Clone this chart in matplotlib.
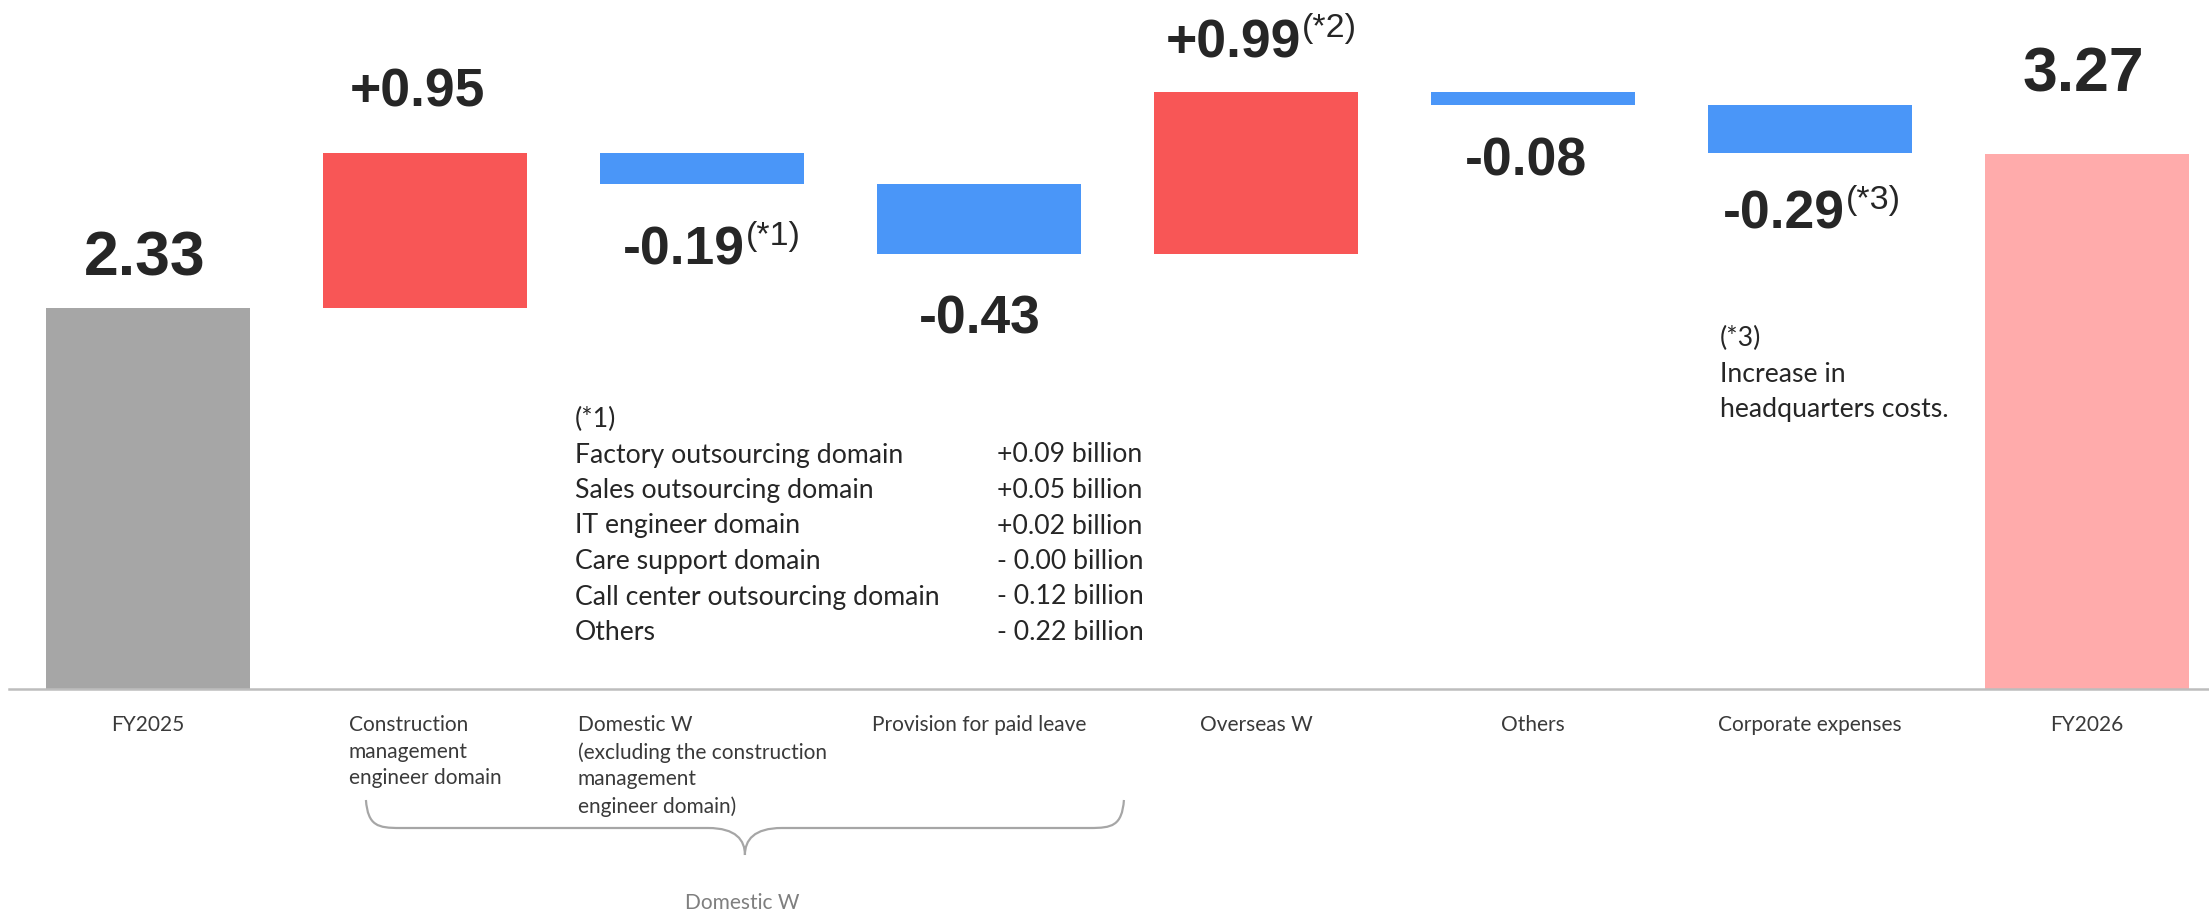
import matplotlib
matplotlib.use("Agg")
import matplotlib.pyplot as plt
import numpy as np
from matplotlib.path import Path
from matplotlib.patches import PathPatch
from matplotlib.transforms import blended_transform_factory

# ---- data -------------------------------------------------------------
categories = [
    "FY2025",
    "Construction\nmanagement\nengineer domain",
    "Domestic W\n(excluding the construction\nmanagement\nengineer domain)",
    "Provision for paid leave",
    "Overseas W",
    "Others",
    "Corporate expenses",
    "FY2026",
]
fy2025 = 2.33
fy2026 = 3.27
changes = [0.95, -0.19, -0.43, 0.99, -0.08, -0.29]
change_notes = ["", "(*1)", "", "(*2)", "", "(*3)"]

note1_items = [
    "Factory outsourcing domain",
    "Sales outsourcing domain",
    "IT engineer domain",
    "Care support domain",
    "Call center outsourcing domain",
    "Others",
]
note1_values = [
    "+0.09 billion",
    "+0.05 billion",
    "+0.02 billion",
    "- 0.00 billion",
    "- 0.12 billion",
    "- 0.22 billion",
]
note3_lines = ["Increase in", "headquarters costs."]
group_label = "Domestic W"

# ---- styling ----------------------------------------------------------
GRAY = "#A6A6A6"
RED = "#F85656"
BLUE = "#4A96F8"
PINK = "#FFABAB"
DARK = "#262626"
TICK = "#3A3A3A"
BRACE = "#A6A6A6"

W, H, DPI = 2209, 910, 100
BASE = 689          # pixel row of the zero line
PX_PER_UNIT = 163.5
SLOT = 277          # pixels between bar centres
X0 = 148            # pixel column of the first bar centre
BAR_W = 204 / SLOT

fig = plt.figure(figsize=(W / DPI, H / DPI), dpi=DPI)
ax = fig.add_axes([0, (H - BASE) / H, 1, BASE / H])
ax.set_xlim(-X0 / SLOT, (W - X0) / SLOT)
ax.set_ylim(0, BASE / PX_PER_UNIT)
ax.axis("off")

def pt(px):
    return px * 72.0 / DPI

def ax_y(py):
    """pixel row -> axes fraction (can be negative below the zero line)"""
    return (BASE - py) / BASE

def fig_xy(px, py):
    return px / W, 1 - py / H

xy_blend = blended_transform_factory(ax.transData, ax.transAxes)

# ---- bars ---------------------------------------------------------------
n = len(categories)
x = np.arange(n)
anchors = []
ax.bar(x[0], fy2025, width=BAR_W, color=GRAY, zorder=2)
anchors.append(fy2025)
level = fy2025
for i, d in enumerate(changes, start=1):
    bottom = level if d >= 0 else level + d
    ax.bar(x[i], abs(d), bottom=bottom, width=BAR_W,
           color=RED if d >= 0 else BLUE, zorder=2)
    anchors.append(level + d)
    level += d
ax.bar(x[-1], fy2026, width=BAR_W, color=PINK, zorder=2)
anchors.append(fy2026)

# zero line
ax.axhline(0, xmin=9 / W, xmax=1, color="#BDBDBD", lw=pt(2.5), clip_on=False, zorder=3)

# ---- value labels -----------------------------------------------------
labels = [f"{fy2025:.2f}"] + [f"{d:+.2f}" for d in changes] + [f"{fy2026:.2f}"]
notes = [""] + change_notes + [""]
sizes = [45] + [38.5] * len(changes) + [45]
# (dx, dy) in pixels from the bar end to the label baseline
offsets = [(-3, 33), (-8, 46), (-18, -81), (1, -79),
           (-23, 35), (-7, -70), (-26, -76), (-4, 63)]
for i in range(n):
    dx, dy = offsets[i]
    t = ax.annotate(labels[i], xy=(x[i], anchors[i]), xytext=(pt(dx), pt(dy)),
                    textcoords="offset points", ha="center", va="baseline",
                    fontsize=sizes[i], fontweight="bold",
                    family="Liberation Sans", color=DARK, zorder=4,
                    annotation_clip=False)
    if notes[i]:
        ax.annotate(notes[i], xy=(1, 1), xycoords=t, xytext=(pt(1), pt(5)),
                    textcoords="offset points", ha="left", va="top",
                    fontsize=24.5, family="Liberation Sans", color=DARK,
                    annotation_clip=False)

# ---- category labels --------------------------------------------------
for i, lab in enumerate(categories):
    ax.text(x[i], ax_y(715), lab, transform=xy_blend, ha="center", va="top",
            multialignment="left", fontsize=15, family="Lato", color=TICK,
            linespacing=1.42, clip_on=False)

# ---- brace grouping the domestic items ----------------------------------
inset = 0.155
xl = x[1] - BAR_W / 2 + inset
xr = x[3] + BAR_W / 2 + inset
xm = (xl + xr) / 2
u = 1.0 / SLOT  # one pixel in data units
y_top, y_mid, y_tip = ax_y(800), ax_y(828), ax_y(855)
verts = [
    (xl, y_top), (xl + 2 * u, ax_y(826)), (xl + 12 * u, y_mid), (xl + 34 * u, y_mid),
    (xm - 37 * u, y_mid),
    (xm - 9 * u, y_mid), (xm, ax_y(840)), (xm, y_tip),
    (xm, ax_y(840)), (xm + 9 * u, y_mid), (xm + 37 * u, y_mid),
    (xr - 34 * u, y_mid),
    (xr - 12 * u, y_mid), (xr - 2 * u, ax_y(826)), (xr, y_top),
]
codes = [Path.MOVETO, Path.CURVE4, Path.CURVE4, Path.CURVE4,
         Path.LINETO,
         Path.CURVE4, Path.CURVE4, Path.CURVE4,
         Path.CURVE4, Path.CURVE4, Path.CURVE4,
         Path.LINETO,
         Path.CURVE4, Path.CURVE4, Path.CURVE4]
ax.add_patch(PathPatch(Path(verts, codes), transform=xy_blend, fill=False,
                       edgecolor=BRACE, lw=pt(2.2), clip_on=False))
ax.text(xm - 3 * u, ax_y(893), group_label, transform=xy_blend, ha="center",
        va="top", fontsize=15, family="Lato", color="#7F7F7F", clip_on=False)

# ---- footnotes ------------------------------------------------------------
ROW = 35.5
NOTE_FS = 19.2
fig.text(*fig_xy(575, 427), "(*1)", ha="left", va="baseline",
         fontsize=NOTE_FS, family="Lato", color=DARK)
for k, (item, val) in enumerate(zip(note1_items, note1_values)):
    yb = 427 + ROW * (k + 1)
    fig.text(*fig_xy(575, yb), item, ha="left", va="baseline",
             fontsize=NOTE_FS, family="Lato", color=DARK)
    fig.text(*fig_xy(997, yb), val, ha="left", va="baseline",
             fontsize=NOTE_FS, family="Lato", color=DARK)

fig.text(*fig_xy(1720, 346), "(*3)", ha="left", va="baseline",
         fontsize=NOTE_FS, family="Lato", color=DARK)
for k, line in enumerate(note3_lines):
    fig.text(*fig_xy(1720, 346 + ROW * (k + 1)), line, ha="left", va="baseline",
             fontsize=NOTE_FS, family="Lato", color=DARK)

fig.savefig("out.png", dpi=DPI, facecolor="white")
